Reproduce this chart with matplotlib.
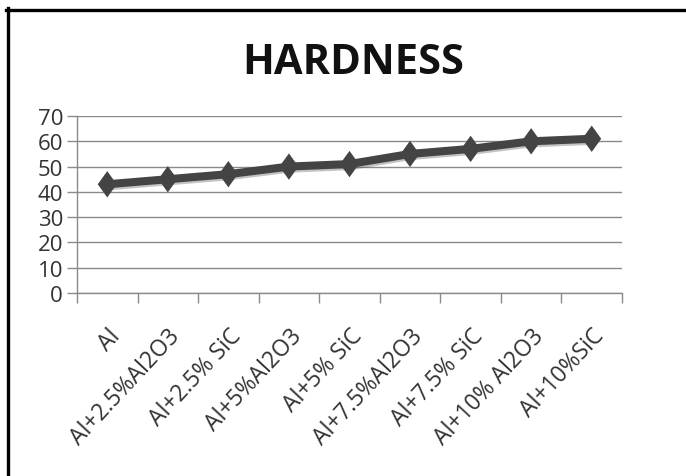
import matplotlib
matplotlib.use("Agg")
import matplotlib.pyplot as plt
import matplotlib.patheffects as pe
from matplotlib.lines import Line2D
from matplotlib.path import Path

categories = ["Al", "Al+2.5%Al2O3", "Al+2.5% SiC", "Al+5%Al2O3", "Al+5% SiC",
              "Al+7.5%Al2O3", "Al+7.5% SiC", "Al+10% Al2O3", "Al+10%SiC"]
hardness = [43, 45, 47, 50, 51, 55, 57, 60, 61]
y_ticks = [0, 10, 20, 30, 40, 50, 60, 70]

plt.rcParams["font.family"] = ["Open Sans", "DejaVu Sans"]

fig = plt.figure(figsize=(6.86, 4.77), dpi=100)
ax = fig.add_axes([0.1122, 0.3836, 0.7945, 0.3711])

# tall diamond marker like the spreadsheet default
diamond = Path([(0, 1), (0.72, 0), (0, -1), (-0.72, 0), (0, 1)],
               [Path.MOVETO, Path.LINETO, Path.LINETO, Path.LINETO, Path.CLOSEPOLY])

x = range(len(categories))
ax.plot(x, hardness, color="#444444", linewidth=5.8, marker=diamond,
        markersize=19, markeredgewidth=0, solid_joinstyle="round",
        path_effects=[pe.SimpleLineShadow(offset=(0.5, -1.5), alpha=0.35, shadow_color="#555555"),
                      pe.Normal()], zorder=3)

ax.set_xlim(-0.5, len(categories) - 0.5)
ax.set_ylim(0, 70)
ax.set_yticks(y_ticks)
ax.tick_params(axis="y", length=7, width=1, color="#8a8a8a", labelsize=16,
               labelcolor="#333333", pad=3)
ax.grid(axis="y", color="#8a8a8a", linewidth=1)
ax.set_axisbelow(True)

# category ticks sit on the boundaries, labels centred on the points
ax.set_xticks([i - 0.5 for i in range(len(categories) + 1)])
ax.set_xticklabels([])
ax.set_xticks(list(x), minor=True)
ax.set_xticklabels(categories, minor=True, rotation=47, ha="right",
                   rotation_mode="anchor", fontsize=16.5, color="#333333")
ax.tick_params(axis="x", which="major", length=7, width=1, color="#8a8a8a")
ax.tick_params(axis="x", which="minor", length=0, pad=22)

for side in ["top", "right"]:
    ax.spines[side].set_visible(False)
for side in ["left", "bottom"]:
    ax.spines[side].set_color("#8a8a8a")
    ax.spines[side].set_linewidth(1)

fig.text(0.515, 0.866, "HARDNESS", ha="center", va="center",
         fontsize=30, fontweight="bold", color="#111111")

# black frame along the top and left edges
fig.add_artist(Line2D([7.5 / 686, 7.5 / 686], [0, 1 - 9 / 477],
                      transform=fig.transFigure, color="black", linewidth=2.4))
fig.add_artist(Line2D([6 / 686, 1], [1 - 10.5 / 477, 1 - 10.5 / 477],
                      transform=fig.transFigure, color="black", linewidth=2.4))

fig.savefig("out.png", dpi=100)
